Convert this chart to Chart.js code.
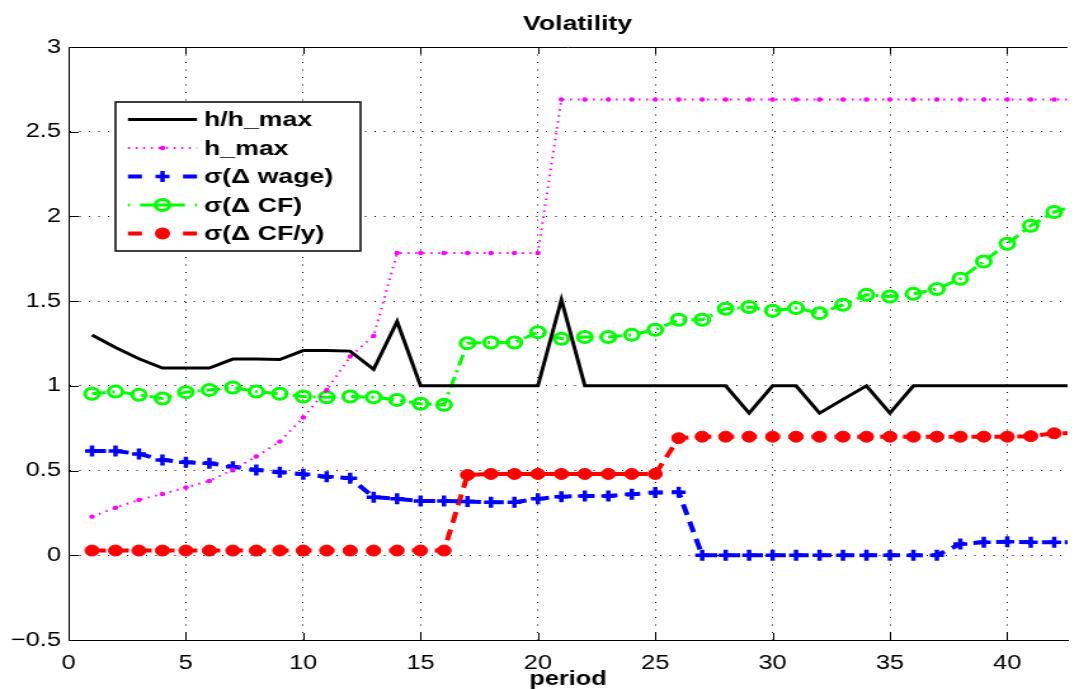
<!DOCTYPE html>
<html>
<head>
<meta charset="utf-8">
<script src="https://cdn.jsdelivr.net/npm/chart.js@4.4.1/dist/chart.umd.min.js"></script>
<style>
  body { margin: 0; background: #fff; }
  canvas { display: block; }
</style>
</head>
<body>
<!-- the original figure is stretched horizontally, so the canvas is drawn narrower and scaled by css -->
<canvas id="vol" width="850" height="689" style="width:1079px;height:689px"></canvas>
<script>
var periods = [];
for (var p = 1; p <= 43; p++) periods.push(p);

var hRatio = [1.30, 1.226, 1.16, 1.105, 1.105, 1.105, 1.158, 1.158, 1.155, 1.208,
              1.208, 1.205, 1.098, 1.38, 1.0, 1.0, 1.0, 1.0, 1.0, 1.0,
              1.508, 1.0, 1.0, 1.0, 1.0, 1.0, 1.0, 1.0, 0.839, 1.0,
              1.0, 0.839, 0.92, 1.0, 0.839, 1.0, 1.0, 1.0, 1.0, 1.0,
              1.0, 1.0, 1.0];
var hMax = [0.228, 0.281, 0.327, 0.362, 0.40, 0.439, 0.505, 0.583, 0.671, 0.813,
            0.976, 1.173, 1.295, 1.784, 1.784, 1.784, 1.784, 1.784, 1.784, 1.784,
            2.69, 2.69, 2.69, 2.69, 2.69, 2.69, 2.69, 2.69, 2.69, 2.69,
            2.69, 2.69, 2.69, 2.69, 2.69, 2.69, 2.69, 2.69, 2.69, 2.69,
            2.69, 2.69, 2.69];
var sdWage = [0.616, 0.616, 0.598, 0.563, 0.549, 0.543, 0.523, 0.504, 0.49, 0.478,
              0.464, 0.455, 0.343, 0.333, 0.321, 0.321, 0.317, 0.313, 0.313, 0.333,
              0.346, 0.35, 0.35, 0.36, 0.37, 0.372, 0.0, 0.0, 0.0, 0.0,
              0.0, 0.0, 0.0, 0.0, 0.0, 0.0, 0.0, 0.067, 0.077, 0.08,
              0.077, 0.077, 0.077];
var sdCF = [0.953, 0.966, 0.947, 0.925, 0.963, 0.976, 0.99, 0.966, 0.953, 0.937,
            0.933, 0.937, 0.933, 0.917, 0.894, 0.888, 1.252, 1.256, 1.256, 1.317,
            1.278, 1.288, 1.288, 1.301, 1.331, 1.39, 1.39, 1.455, 1.465, 1.443,
            1.459, 1.429, 1.478, 1.537, 1.527, 1.543, 1.571, 1.632, 1.734, 1.839,
            1.945, 2.026, 2.07];
var sdCFy = [0.028, 0.028, 0.028, 0.028, 0.028, 0.028, 0.028, 0.028, 0.028, 0.028,
             0.028, 0.028, 0.028, 0.028, 0.028, 0.028, 0.474, 0.48, 0.48, 0.48,
             0.48, 0.48, 0.48, 0.48, 0.48, 0.691, 0.70, 0.70, 0.70, 0.70,
             0.70, 0.70, 0.70, 0.70, 0.70, 0.70, 0.70, 0.70, 0.70, 0.70,
             0.703, 0.72, 0.72];

var xTicks = [0, 5, 10, 15, 20, 25, 30, 35, 40];
var yTicks = [-0.5, 0, 0.5, 1, 1.5, 2, 2.5, 3];
var labels = ['h/h_max', 'h_max', 'σ(Δ wage)', 'σ(Δ CF)', 'σ(Δ CF/y)'];

var FONT = '"Liberation Sans", Arial, Helvetica, sans-serif';

function pts(arr) {
    return periods.map(function (p, i) { return {x: p, y: arr[i]}; });
}

function drawMarker(ctx, style, color, x, y) {
    ctx.save();
    ctx.setLineDash([]);
    ctx.strokeStyle = color;
    ctx.fillStyle = color;
    if (style == 'cross') {
        ctx.lineWidth = 3.5;
        ctx.beginPath();
        ctx.moveTo(x - 5.5, y); ctx.lineTo(x + 5.5, y);
        ctx.moveTo(x, y - 5.5); ctx.lineTo(x, y + 5.5);
        ctx.stroke();
    } else if (style == 'ring') {
        ctx.lineWidth = 3;
        ctx.beginPath(); ctx.arc(x, y, 5.5, 0, Math.PI * 2); ctx.stroke();
    } else if (style == 'dot') {
        ctx.beginPath(); ctx.arc(x, y, 6, 0, Math.PI * 2); ctx.fill();
    } else if (style == 'small') {
        ctx.beginPath(); ctx.arc(x, y, 2.2, 0, Math.PI * 2); ctx.fill();
    }
    ctx.restore();
}

// legend samples, title, top border and the inward ticks of the matlab axes
var matlabFrame = {
    id: 'matlabFrame',
    afterDatasetsDraw: function (chart) {
        var ctx = chart.ctx, a = chart.chartArea;
        var xs = chart.scales.x, ys = chart.scales.y;
        ctx.save();
        ctx.strokeStyle = '#000';
        ctx.lineWidth = 1;
        ctx.beginPath();
        ctx.moveTo(a.left, a.top + 0.5);
        ctx.lineTo(a.right, a.top + 0.5);
        xs.ticks.forEach(function (t) {
            var px = Math.round(xs.getPixelForValue(t.value)) + 0.5;
            ctx.moveTo(px, a.bottom); ctx.lineTo(px, a.bottom - 7);
            ctx.moveTo(px, a.top); ctx.lineTo(px, a.top + 7);
        });
        ys.ticks.forEach(function (t) {
            var py = Math.round(ys.getPixelForValue(t.value)) + 0.5;
            ctx.moveTo(a.left, py); ctx.lineTo(a.left + 8, py);
        });
        ctx.stroke();

        ctx.fillStyle = '#000';
        ctx.font = 'bold 21px ' + FONT;
        ctx.textAlign = 'center';
        ctx.textBaseline = 'middle';
        ctx.fillText('Volatility', 455, 24);

        // legend box
        var bx = 91, by = 102, bw = 193, bh = 149;
        ctx.fillStyle = '#fff';
        ctx.fillRect(bx, by, bw, bh);
        ctx.lineWidth = 1.5;
        ctx.strokeStyle = '#000';
        ctx.strokeRect(bx, by, bw, bh);

        var samples = [
            {dash: [], width: 3, marker: null},
            {dash: [1.5, 4.5], width: 2, marker: 'small'},
            {dash: [11, 32.4], width: 4, marker: 'cross'},
            {dash: [1.5, 8, 35.4, 8, 1.5], width: 3, marker: 'ring'},
            {dash: [11, 32.4], width: 4, marker: 'dot'}
        ];
        chart.data.datasets.forEach(function (ds, i) {
            var s = samples[i];
            var y = by + 17.5 + i * 28.5;
            ctx.save();
            ctx.strokeStyle = ds.borderColor;
            ctx.lineWidth = s.width;
            ctx.setLineDash(s.dash);
            ctx.beginPath();
            ctx.moveTo(100.8, y);
            ctx.lineTo(155.2, y);
            ctx.stroke();
            ctx.restore();
            if (s.marker) drawMarker(ctx, s.marker, ds.borderColor, 128, y);
            ctx.fillStyle = '#000';
            ctx.font = 'bold 21px ' + FONT;
            ctx.textAlign = 'left';
            ctx.textBaseline = 'middle';
            ctx.fillText(ds.label, 160.7, y + 1);
        });
        ctx.restore();
    }
};

new Chart(document.getElementById('vol'), {
    type: 'line',
    data: {
        datasets: [{
            label: labels[0],
            data: pts(hRatio),
            borderColor: '#000000',
            borderWidth: 3,
            pointRadius: 0
        }, {
            label: labels[1],
            data: pts(hMax),
            borderColor: '#ff00ff',
            borderWidth: 2,
            borderDash: [1.5, 4.5],
            pointRadius: 2.2,
            pointBackgroundColor: '#ff00ff',
            pointBorderWidth: 0
        }, {
            label: labels[2],
            data: pts(sdWage),
            borderColor: '#0000ff',
            borderWidth: 4,
            borderDash: [11, 7],
            pointStyle: 'cross',
            pointRadius: 5.5,
            pointBorderWidth: 3.5,
            pointBorderColor: '#0000ff'
        }, {
            label: labels[3],
            data: pts(sdCF),
            borderColor: '#00ff00',
            borderWidth: 3,
            borderDash: [11, 5, 2, 5],
            pointStyle: 'circle',
            pointRadius: 5.5,
            pointBorderWidth: 3,
            pointBorderColor: '#00ff00',
            pointBackgroundColor: 'rgba(0,0,0,0)'
        }, {
            label: labels[4],
            data: pts(sdCFy),
            borderColor: '#ff0000',
            borderWidth: 4,
            borderDash: [11, 7],
            pointStyle: 'circle',
            pointRadius: 5.5,
            pointBorderWidth: 1,
            pointBorderColor: '#ff0000',
            pointBackgroundColor: '#ff0000'
        }]
    },
    options: {
        responsive: false,
        animation: false,
        devicePixelRatio: 1,
        layout: {padding: {top: 47, left: 0, right: 0, bottom: 0}},
        elements: {line: {tension: 0, fill: false}},
        plugins: {legend: {display: false}, title: {display: false}, tooltip: {enabled: false}},
        scales: {
            x: {
                type: 'linear',
                min: 0,
                max: 42.57,
                afterBuildTicks: function (s) { s.ticks = xTicks.map(function (v) { return {value: v}; }); },
                afterFit: function (s) { s.height = 49; },
                grid: {color: '#000', lineWidth: 1, drawTicks: false},
                border: {color: '#000', width: 1, dash: [1, 6.5]},
                ticks: {color: '#000', padding: 11, maxRotation: 0, font: {family: FONT, size: 20}},
                title: {display: true, text: 'period', color: '#000', padding: 0,
                        font: {family: FONT, size: 20, weight: 'bold', lineHeight: 1}}
            },
            y: {
                min: -0.5,
                max: 3,
                afterBuildTicks: function (s) { s.ticks = yTicks.map(function (v) { return {value: v}; }); },
                afterFit: function (s) { s.width = 54; },
                grid: {color: '#000', lineWidth: 1, drawTicks: false},
                border: {color: '#000', width: 1, dash: [1, 6.5]},
                ticks: {
                    color: '#000', padding: 6, font: {family: FONT, size: 20},
                    callback: function (v) { return v < 0 ? '\u2212' + Math.abs(v) : String(v); }
                }
            }
        }
    },
    plugins: [matlabFrame]
});
</script>
</body>
</html>
